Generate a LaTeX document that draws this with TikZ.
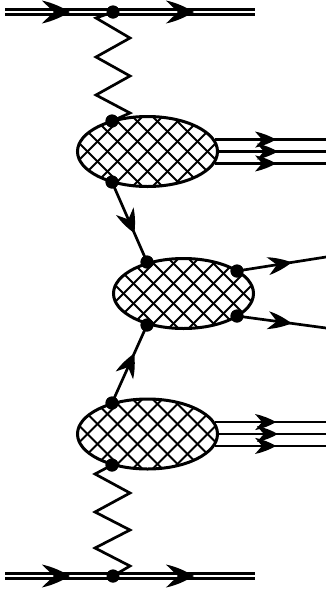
\documentclass[tikz,border=0pt]{standalone}
\usetikzlibrary{shapes.geometric,decorations.markings}
% arrowhead with slightly bulged sides: length #1, width #2, notch depth #3
\newcommand{\fermhead}[3]{%
  \fill (0,0) .. controls (-0.3*#1,0.22*#2) and (-0.62*#1,0.4*#2) .. (-#1,0.5*#2)
    -- (-#1+#3,0) -- (-#1,-0.5*#2)
    .. controls (-0.62*#1,-0.4*#2) and (-0.3*#1,-0.22*#2) .. (0,0) -- cycle;}
\begin{document}
\begin{tikzpicture}[x=1pt,y=-1pt,
  line/.style={line width=2.7pt},
  dbl/.style={double, line width=3.2pt, double distance=1.5pt},
  dot/.style={circle, fill=black, inner sep=0pt, minimum size=13pt},
  hatch/.style={line width=2pt},
  blob/.style={ellipse, draw, line width=3pt, fill=white,
    minimum width=140pt, minimum height=70pt, inner sep=0pt,
    path picture={
      \foreach \k in {-12,...,12}{
        \draw[hatch, shift={(path picture bounding box.center)}]
          (\k*20-90,-90) -- ++(180,180);
        \draw[hatch, shift={(path picture bounding box.center)}]
          (\k*20-90,90) -- ++(180,-180);
      }}},
  % arrowhead on a path: position, length, width, notch
  head/.style n args={4}{decoration={markings,
      mark=at position #1 with {\fermhead{#2}{#3}{#4}}}, postaction={decorate}},
  headonly/.style n args={4}{decoration={markings,
      mark=at position #1 with {\fermhead{#2}{#3}{#4}}}, decorate},
]
\useasboundingbox (0,0) rectangle (326,595);

% end points of the external lines
\coordinate (tl) at (5,12);
\coordinate (tr) at (255,12);
\coordinate (bl) at (5,576);
\coordinate (br) at (255,576);
\coordinate (edge) at (326,0);

% blobs
\node[blob] (uE) at (147.5,151.5) {};
\node[blob] (mE) at (183.5,293.5) {};
\node[blob] (lE) at (147.5,434) {};

% vertices
\node[dot] (tv) at (113,12) {};
\node[dot] (u1) at (112,121) {};
\node[dot] (u2) at (112,182) {};
\node[dot] (m1) at (147,262) {};
\node[dot] (m2) at (147,325) {};
\node[dot] (m3) at (237,271) {};
\node[dot] (m4) at (237,316) {};
\node[dot] (l1) at (112,403) {};
\node[dot] (l2) at (112,465) {};
\node[dot] (bv) at (113,576) {};

% outgoing lines of the middle blob
\coordinate (mo1) at (326,257);
\coordinate (mo2) at (326,328);

% double lines at top and bottom
\draw[dbl] (tl) -- (tv.center) -- (tr);
\draw[dbl] (bl) -- (bv.center) -- (br);
\path[headonly={0.6}{28}{23}{12}] (tl) -- (tv.center);
\path[headonly={0.57}{28}{23}{12}] (tv.center) -- (tr);
\path[headonly={0.6}{28}{23}{12}] (bl) -- (bv.center);
\path[headonly={0.57}{28}{23}{12}] (bv.center) -- (br);

% zigzag exchange lines
\draw[line, line join=miter] (tv.center) -- ++(-17,6) -- ++(34,20) -- ++(-34,19)
  -- ++(34,19) -- ++(-34,19) -- ++(34,18) -- (u1.center);
\draw[line, line join=miter] (l2.center) -- ++(-17,9) -- ++(35,19) -- ++(-35,19)
  -- ++(35,18) -- ++(-35,18) -- ++(35,18) -- (bv.center);

% lines between the blobs
\draw[line, head={0.64}{24}{19}{9}] (u2.center) -- (m1.center);
\draw[line, head={0.635}{24}{19}{9}] (l1.center) -- (m2.center);

% outgoing lines of the middle blob
\draw[line, head={0.615}{24}{18}{9}] (m3.center) -- (mo1);
\draw[line, head={0.615}{24}{18}{9}] (m4.center) -- (mo2);

% triple lines of the upper and lower blobs
\foreach \b in {uE,lE}{
  \foreach \a in {10.5,0,-10.5}{
    \draw[line, head={0.55}{21}{16}{7}] (\b.\a) -- (\b.\a -| edge);
  }
}

% vertices drawn again on top
\foreach \n in {tv,u1,u2,m1,m2,m3,m4,l1,l2,bv}{
  \fill (\n) circle (6.5pt);
}
\end{tikzpicture}
\end{document}
